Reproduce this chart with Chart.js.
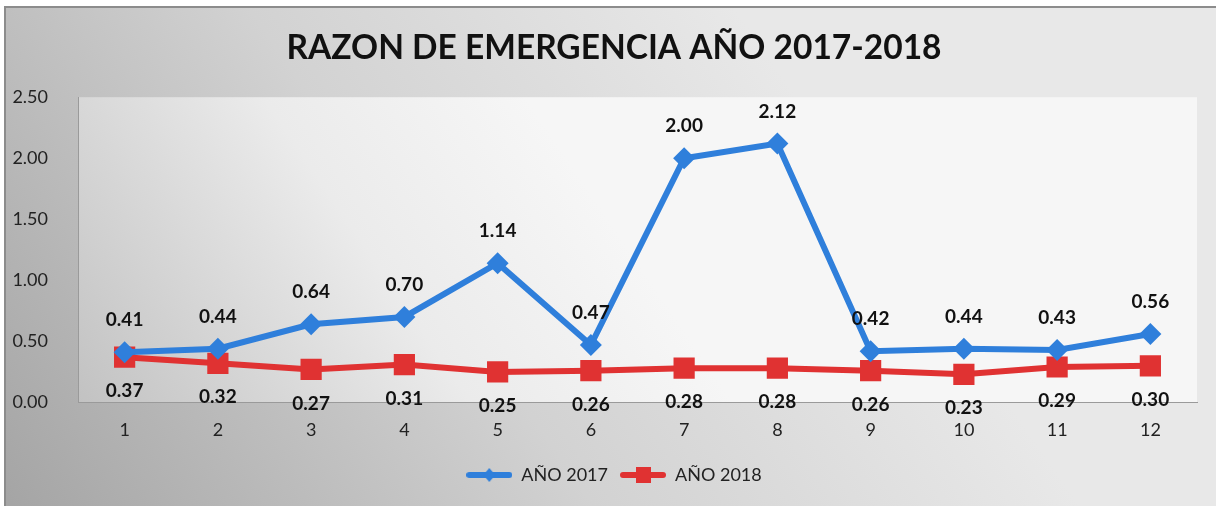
<!DOCTYPE html>
<html>
<head>
<meta charset="utf-8">
<script src="https://cdn.jsdelivr.net/npm/chart.js@4/dist/chart.umd.min.js"></script>
<style>
  html, body { margin: 0; padding: 0; background: #ffffff; }
  #wrap { width: 1216px; height: 506px; position: relative; }
</style>
</head>
<body>
<div id="wrap"><canvas id="chart"></canvas></div>
<script>
  var months = ["1", "2", "3", "4", "5", "6", "7", "8", "9", "10", "11", "12"];
  var razon2017 = [0.41, 0.44, 0.64, 0.70, 1.14, 0.47, 2.00, 2.12, 0.42, 0.44, 0.43, 0.56];
  var razon2018 = [0.37, 0.32, 0.27, 0.31, 0.25, 0.26, 0.28, 0.28, 0.26, 0.23, 0.29, 0.30];
  var yTicks = [0, 0.5, 1, 1.5, 2, 2.5];

  var BLUE = "#2f7fdb";
  var RED = "#e03232";
  var FONT = "Lato, 'Open Sans', sans-serif";

  // legend sample: short line with the marker in the middle
  function legendSample(color, shape) {
    var c = document.createElement("canvas");
    c.width = 46; c.height = 22;
    var g = c.getContext("2d");
    g.strokeStyle = color;
    g.lineWidth = 6;
    g.lineCap = "round";
    g.beginPath(); g.moveTo(3, 11); g.lineTo(43, 11); g.stroke();
    g.fillStyle = color;
    if (shape === "diamond") {
      g.beginPath(); g.moveTo(23, 4); g.lineTo(29, 11); g.lineTo(23, 18); g.lineTo(17, 11); g.closePath(); g.fill();
    } else {
      g.fillRect(16, 3, 15, 16);
    }
    return c;
  }

  var backgroundPlugin = {
    id: "excelBackground",
    beforeDraw: function (chart) {
      var ctx = chart.ctx;
      var w = chart.width, h = chart.height;
      ctx.save();
      var outer = ctx.createLinearGradient(0, h, w * 0.6, 0);
      outer.addColorStop(0, "#a4a4a4");
      outer.addColorStop(0.55, "#d2d2d2");
      outer.addColorStop(1, "#e8e8e8");
      ctx.fillStyle = outer;
      ctx.fillRect(5, 7, w - 5, h - 7);
      ctx.strokeStyle = "#8c8c8c";
      ctx.lineWidth = 2;
      ctx.beginPath();
      ctx.moveTo(5, h); ctx.lineTo(5, 7); ctx.lineTo(w, 7);
      ctx.stroke();
      var a = chart.chartArea;
      var inner = ctx.createLinearGradient(a.left, a.bottom, a.left + (a.right - a.left) * 0.4, a.top);
      inner.addColorStop(0, "#c2c2c2");
      inner.addColorStop(0.6, "#ebebeb");
      inner.addColorStop(1, "#f6f6f6");
      ctx.fillStyle = inner;
      ctx.fillRect(a.left, a.top, a.right - a.left, a.bottom - a.top);
      ctx.restore();
    }
  };

  var valueLabelPlugin = {
    id: "valueLabels",
    afterDatasetsDraw: function (chart) {
      var ctx = chart.ctx;
      ctx.save();
      ctx.font = "bold 19px " + FONT;
      ctx.fillStyle = "#111111";
      ctx.textAlign = "center";
      ctx.textBaseline = "middle";
      chart.data.datasets.forEach(function (ds, i) {
        var meta = chart.getDatasetMeta(i);
        meta.data.forEach(function (pt, j) {
          var dy = i === 0 ? -32 : 34;
          ctx.fillText(ds.data[j].toFixed(2), pt.x, pt.y + dy);
        });
      });
      ctx.restore();
    }
  };

  new Chart(document.getElementById("chart"), {
    type: "line",
    data: {
      labels: months,
      datasets: [
        {
          label: "AÑO 2017",
          data: razon2017,
          borderColor: BLUE,
          backgroundColor: BLUE,
          borderWidth: 6,
          pointStyle: "rectRot",
          pointRadius: 11,
          pointBorderWidth: 0,
          tension: 0,
          fill: false
        },
        {
          label: "AÑO 2018",
          data: razon2018,
          borderColor: RED,
          backgroundColor: RED,
          borderWidth: 6,
          pointStyle: "rect",
          pointRadius: 15,
          pointBorderWidth: 0,
          tension: 0,
          fill: false
        }
      ]
    },
    options: {
      responsive: true,
      maintainAspectRatio: false,
      animation: false,
      layout: { padding: { left: 12, right: 0, top: 0, bottom: 12 } },
      scales: {
        x: {
          offset: true,
          afterFit: function (scale) { scale.height = scale.height + 4; },
          grid: { display: false },
          border: { display: true, color: "#9a9a9a", width: 1 },
          ticks: { color: "#222222", font: { family: FONT, size: 18 }, padding: 9 }
        },
        y: {
          min: 0,
          max: 2.5,
          afterBuildTicks: function (scale) {
            scale.ticks = yTicks.map(function (v) { return { value: v }; });
          },
          afterFit: function (scale) { scale.width = 66; },
          grid: { display: false },
          border: { display: true, color: "#9a9a9a", width: 1 },
          ticks: {
            color: "#222222",
            font: { family: FONT, size: 18 },
            padding: 22,
            callback: function (v) { return Number(v).toFixed(2); }
          }
        },
        // empty right-hand spacer so the plot area ends where the reference does
        spacer: {
          type: "linear",
          position: "right",
          display: true,
          afterFit: function (scale) { scale.width = 19; },
          grid: { display: false },
          border: { display: false },
          ticks: { display: false }
        }
      },
      plugins: {
        title: {
          display: true,
          text: "RAZON DE EMERGENCIA AÑO 2017-2018",
          color: "#111111",
          font: { family: FONT, size: 33.5, weight: "bold" },
          padding: { top: 28, bottom: 29 }
        },
        legend: {
          position: "bottom",
          labels: {
            color: "#222222",
            font: { family: FONT, size: 18 },
            usePointStyle: true,
            pointStyleWidth: 46,
            padding: 12,
            generateLabels: function (chart) {
              return chart.data.datasets.map(function (ds, i) {
                return {
                  text: ds.label,
                  fontColor: "#222222",
                  pointStyle: legendSample(ds.borderColor, i === 0 ? "diamond" : "square"),
                  datasetIndex: i,
                  hidden: false,
                  lineWidth: 0
                };
              });
            }
          }
        },
        tooltip: { enabled: false }
      }
    },
    plugins: [backgroundPlugin, valueLabelPlugin]
  });
</script>
</body>
</html>
